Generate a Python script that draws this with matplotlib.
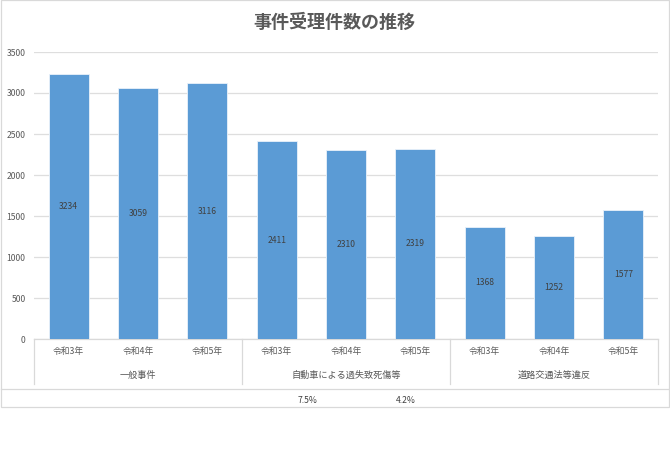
import matplotlib
matplotlib.use("Agg")
import matplotlib.pyplot as plt
import matplotlib.transforms as mtransforms
from matplotlib.patches import Rectangle
from matplotlib.lines import Line2D

plt.rcParams['font.family'] = ['Noto Sans CJK JP', 'DejaVu Sans']

title = "事件受理件数の推移"
groups = ["一般事件", "自動車による過失致死傷等", "道路交通法等違反"]
years = ["令和3年", "令和4年", "令和5年"]
values = [3234, 3059, 3116, 2411, 2310, 2319, 1368, 1252, 1577]
yticks = [0, 500, 1000, 1500, 2000, 2500, 3000, 3500]
table_notes = ["7.5%", "4.2%"]

W, H = 670, 473
fig = plt.figure(figsize=(W / 100, H / 100), dpi=100)
ax = fig.add_axes([34 / W, (H - 339) / H, (658 - 34) / W, (339 - 52) / H])

labels = [y for g in groups for y in years]
x = list(range(len(values)))
bars = ax.bar(x, values, width=0.58, color="#5B9BD5", edgecolor="#EAF2FA",
              linewidth=0.6, zorder=3)
for xi, v in zip(x, values):
    ax.text(xi, v / 2, str(v), ha="center", va="center", fontsize=6.2,
            color="#404040", zorder=4)

ax.set_xlim(-0.5, len(values) - 0.5)
ax.set_ylim(0, 3500)
ax.set_yticks(yticks)
ax.set_yticklabels([str(t) for t in yticks], fontsize=6.2, color="#595959")
ax.tick_params(axis="y", length=0, pad=6)
ax.set_xticks(x)
ax.set_xticklabels(labels, fontsize=6.3, color="#595959")
ax.tick_params(axis="x", length=0, pad=6)
ax.grid(axis="y", color="#DEDEDE", linewidth=0.9, zorder=0)
for s in ["top", "right", "left"]:
    ax.spines[s].set_visible(False)
ax.spines["bottom"].set_color("#D9D9D9")
ax.spines["bottom"].set_linewidth(0.9)

# group labels and separators
trans = mtransforms.blended_transform_factory(ax.transData, ax.transAxes)
axh = 339 - 52
for gi, g in enumerate(groups):
    ax.text(gi * 3 + 1, -(375 - 339) / axh, g, transform=trans, ha="center",
            va="center", fontsize=6.6, color="#595959")
for b in [-0.5, 2.5, 5.5, 8.5]:
    ax.add_line(Line2D([b, b], [0, -(384 - 339) / axh], transform=trans,
                       color="#D9D9D9", linewidth=0.9, clip_on=False))

fig.text(0.5 * 668 / W, (H - 22) / H, title, ha="center", va="center",
         fontsize=13, fontweight="bold", color="#595959")

# outer frame and table row
fig.add_artist(Rectangle((0.5 / W, (H - 407) / H), 668 / W, 407 / H,
                         transform=fig.transFigure, fill=False,
                         edgecolor="#D9D9D9", linewidth=0.9))
fig.add_artist(Line2D([0.5 / W, 668.5 / W], [(H - 389) / H, (H - 389) / H],
                      transform=fig.transFigure, color="#D9D9D9", linewidth=0.9))
for note, px in zip(table_notes, [308, 406]):
    fig.text(px / W, (H - 400) / H, note, ha="center", va="center",
             fontsize=6.2, color="#404040")

fig.savefig("out.png", dpi=100, facecolor="white")
